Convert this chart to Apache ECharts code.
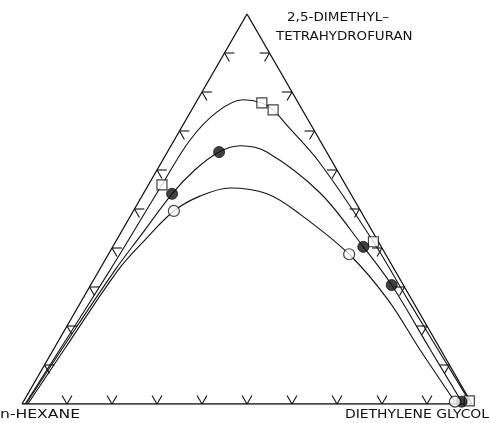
<!DOCTYPE html>
<html>
<head>
<meta charset="utf-8">
<script src="https://cdn.jsdelivr.net/npm/echarts@6/dist/echarts.min.js"></script>
<style>
  html, body { margin: 0; padding: 0; background: #ffffff; }
  #chart { width: 490px; height: 423px; }
</style>
</head>
<body>
<div id="chart"></div>
<script>
// Ternary system n-hexane / 2,5-dimethyltetrahydrofuran / diethylene glycol.
// Compositions in %: THF = 2,5-dimethyltetrahydrofuran, DEG = diethylene glycol,
// n-hexane is the remainder (100 - THF - DEG).

// Binodal curve, open squares
const squareCurveTHF = [0, 34.4, 56.2, 67.7, 74.9, 78.0, 77.2, 75.4, 71.5, 61.8, 41.6, 26.7, 0.8];
const squareCurveDEG = [0.7, 2.4, 3.0, 3.5, 5.9, 10.1, 14.7, 18.1, 23.1, 35.3, 57.3, 72.4, 99.0];
const squarePointTHF = [56.2, 77.2, 75.4, 41.6, 0.8];
const squarePointDEG = [3.0, 14.7, 18.1, 57.3, 99.0];

// Binodal curve, filled circles
const filledCurveTHF = [0, 16.4, 34.4, 43.3, 53.9, 60.0, 64.6, 66.2, 64.6, 54.1, 40.3, 30.5, 13.9, 0.6];
const filledCurveDEG = [0.9, 2.0, 3.5, 4.8, 6.4, 8.4, 11.5, 15.4, 22.1, 39.2, 55.7, 66.9, 83.8, 97.4];
const filledPointTHF = [53.9, 64.6, 40.3, 30.5, 0.6];
const filledPointDEG = [6.4, 11.5, 55.7, 66.9, 97.4];

// Binodal curve, open circles
const openCurveTHF = [0, 13.9, 34.4, 42.1, 49.5, 53.3, 55.4, 53.9, 48.7, 38.4, 26.7, 13.9, 0.6];
const openCurveDEG = [1.3, 2.4, 4.2, 6.3, 9.0, 12.9, 18.5, 27.5, 37.4, 53.5, 68.0, 81.5, 95.9];
const openPointTHF = [49.5, 38.4, 0.6];
const openPointDEG = [9.0, 53.5, 95.9];

// Scale divisions along each side of the triangle, in %
const tickPercents = [10, 20, 30, 40, 50, 60, 70, 80, 90];
const tickLength = 2.2;

// Corner labels
const labelTop = ['2,5-DIMETHYL\u2013', 'TETRAHYDROFURAN'];
const labelLeft = 'n-HEXANE';
const labelRight = 'DIETHYLENE GLYCOL';

// Composition (THF %, DEG %) -> plane coordinates of the equilateral diagram
function toXY(thf, deg) {
  return [(deg + thf / 2) / 100, thf / 100];
}
function pairs(thf, deg) {
  return thf.map((t, i) => toXY(t, deg[i]));
}

// Each tick: edge point plus the two short grid-line stubs pointing inward
const tickData = [];
tickPercents.forEach(p => {
  const L = tickLength;
  // base (THF = 0): along constant DEG and constant hexane
  tickData.push([...toXY(0, p), ...toXY(L, p), ...toXY(L, p - L)]);
  // left side (DEG = 0): along constant THF and constant hexane
  tickData.push([...toXY(p, 0), ...toXY(p, L), ...toXY(p - L, L)]);
  // right side (hexane = 0): along constant THF and constant DEG
  tickData.push([...toXY(p, 100 - p), ...toXY(p, 100 - p - L), ...toXY(p - L, 100 - p)]);
});

const corners = [toXY(0, 0), toXY(100, 0), toXY(0, 100), toXY(0, 0)];

const chart = echarts.init(document.getElementById('chart'), null, { renderer: 'canvas' });

const curveStyle = { color: '#111', width: 1.1 };
const labelFont = '13px "DejaVu Sans"';

function label(text, x, y, sx) {
  return {
    type: 'text', x: x, y: y, scaleX: sx,
    style: { text: text, font: labelFont, fill: '#111', textAlign: 'left', textVerticalAlign: 'top' }
  };
}

chart.setOption({
  animation: false,
  backgroundColor: '#ffffff',
  grid: { left: 22, top: 14, width: 450, height: 390 },
  xAxis: { type: 'value', min: 0, max: 1, show: false },
  yAxis: { type: 'value', min: 0, max: 1, show: false },
  graphic: [
    label(labelTop[0], 287, 11, 1.04),
    label(labelTop[1], 276, 30, 1.03),
    label(labelLeft, 0, 408, 1.2),
    label(labelRight, 345, 408, 1.07)
  ],
  series: [
    {
      type: 'line', data: corners, symbol: 'none',
      lineStyle: { color: '#111', width: 1.3 }, z: 2
    },
    {
      type: 'custom', data: tickData, z: 3,
      renderItem: function (params, api) {
        const p0 = api.coord([api.value(0), api.value(1)]);
        const p1 = api.coord([api.value(2), api.value(3)]);
        const p2 = api.coord([api.value(4), api.value(5)]);
        const st = { stroke: '#111', lineWidth: 1.1 };
        return {
          type: 'group',
          children: [
            { type: 'line', shape: { x1: p0[0], y1: p0[1], x2: p1[0], y2: p1[1] }, style: st },
            { type: 'line', shape: { x1: p0[0], y1: p0[1], x2: p2[0], y2: p2[1] }, style: st }
          ]
        };
      }
    },
    { type: 'line', data: pairs(squareCurveTHF, squareCurveDEG), smooth: 0.35, symbol: 'none', lineStyle: curveStyle, z: 4 },
    { type: 'line', data: pairs(filledCurveTHF, filledCurveDEG), smooth: 0.35, symbol: 'none', lineStyle: curveStyle, z: 4 },
    { type: 'line', data: pairs(openCurveTHF, openCurveDEG), smooth: 0.35, symbol: 'none', lineStyle: curveStyle, z: 4 },
    {
      type: 'scatter', data: pairs(squarePointTHF, squarePointDEG), symbol: 'rect', symbolSize: 10,
      itemStyle: { color: '#fff', borderColor: '#111', borderWidth: 1.2 }, z: 6
    },
    {
      type: 'scatter', data: pairs(filledPointTHF, filledPointDEG), symbol: 'circle', symbolSize: 11,
      itemStyle: { color: '#111', borderColor: '#111', borderWidth: 1 }, z: 6
    },
    {
      type: 'scatter', data: pairs(openPointTHF, openPointDEG), symbol: 'circle', symbolSize: 11,
      itemStyle: { color: '#fff', borderColor: '#111', borderWidth: 1.2 }, z: 6
    }
  ]
});
</script>
</body>
</html>
